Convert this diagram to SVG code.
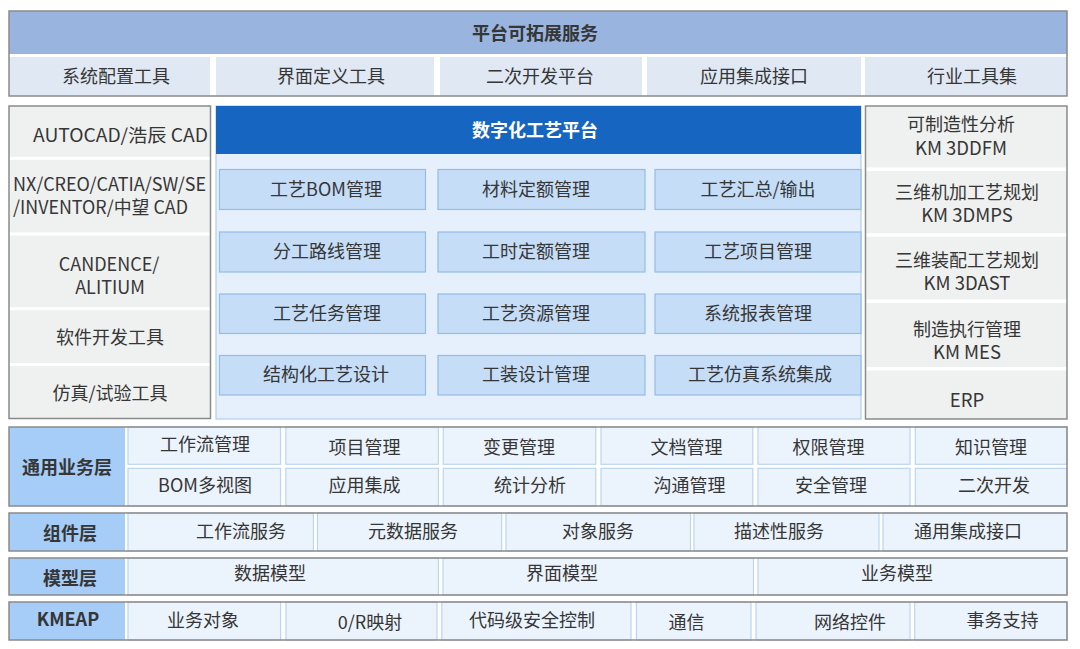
<svg xmlns="http://www.w3.org/2000/svg" width="1080" height="649" viewBox="0 0 1080 649">
<style>
text{font-family:"Noto Sans CJK SC","Noto Sans",sans-serif;font-size:18px;fill:#363636;text-anchor:middle;dominant-baseline:central}
.b{font-weight:700}
.w{fill:#ffffff}
.outer{fill:none;stroke:#8a8a8a;stroke-width:1.5}
.hdr{fill:#99b4de}
.row{fill:#e0e8f4}
.side{fill:#eff0f0}
.sep{fill:#ffffff}
.cb{fill:#e6f0fd;stroke:#b2cdee;stroke-width:1.2}
.ch{fill:#1565c1}
.cc{fill:#c5ddf6;stroke:#94bce9;stroke-width:1.2}
.lab{fill:#a6cdf8}
.lc{fill:#ebf3fd;stroke:#bcd5f0;stroke-width:1.2}
</style>
<rect width="1080" height="649" fill="#ffffff"/>

<g id="ext">
<rect class="hdr" x="9" y="11" width="1058" height="43"/>
<rect class="row" x="9" y="57" width="201" height="39"/>
<rect class="row" x="216" y="57" width="218" height="39"/>
<rect class="row" x="440" y="57" width="202" height="39"/>
<rect class="row" x="647" y="57" width="214" height="39"/>
<rect class="row" x="865" y="57" width="202" height="39"/>
<rect class="outer" x="9" y="11" width="1058" height="85"/>
<text class="b" x="535" y="31.5">平台可拓展服务</text>
<text x="116" y="74.5">系统配置工具</text>
<text x="331" y="74.5">界面定义工具</text>
<text x="540" y="74.5">二次开发平台</text>
<text x="754" y="74.5">应用集成接口</text>
<text x="972" y="74.5">行业工具集</text>
</g>

<g id="left">
<rect class="side" x="9" y="106" width="201.5" height="312.5"/>
<rect class="sep" x="9" y="156.8" width="201.5" height="3"/>
<rect class="sep" x="9" y="232.5" width="201.5" height="3"/>
<rect class="sep" x="9" y="307.2" width="201.5" height="3"/>
<rect class="sep" x="9" y="363" width="201.5" height="3"/>
<rect class="outer" x="9" y="106" width="201.5" height="312.5"/>
<text x="33" y="133.5" style="text-anchor:start" textLength="175" lengthAdjust="spacingAndGlyphs">AUTOCAD/浩辰 CAD</text>
<text x="13" y="183" style="text-anchor:start" textLength="193" lengthAdjust="spacingAndGlyphs">NX/CREO/CATIA/SW/SE</text>
<text x="13" y="206" style="text-anchor:start" textLength="175" lengthAdjust="spacingAndGlyphs">/INVENTOR/中望 CAD</text>
<text x="109" y="263">CANDENCE/</text>
<text x="110" y="286">ALITIUM</text>
<text x="110" y="335.5">软件开发工具</text>
<text x="110" y="391.5">仿真/试验工具</text>
</g>

<g id="center">
<rect class="cb" x="216" y="106" width="645" height="313"/>
<rect class="ch" x="216" y="106" width="645" height="48"/>
<text class="b w" x="535" y="128.5">数字化工艺平台</text>
<rect class="cc" x="219.5" y="169.5" width="206" height="40"/>
<rect class="cc" x="438" y="169.5" width="207" height="40"/>
<rect class="cc" x="655" y="169.5" width="206" height="40"/>
<rect class="cc" x="219.5" y="232" width="206" height="40"/>
<rect class="cc" x="438" y="232" width="207" height="40"/>
<rect class="cc" x="655" y="232" width="206" height="40"/>
<rect class="cc" x="219.5" y="294" width="206" height="39.5"/>
<rect class="cc" x="438" y="294" width="207" height="39.5"/>
<rect class="cc" x="655" y="294" width="206" height="39.5"/>
<rect class="cc" x="219.5" y="355.5" width="206" height="39.5"/>
<rect class="cc" x="438" y="355.5" width="207" height="39.5"/>
<rect class="cc" x="655" y="355.5" width="206" height="39.5"/>
<text x="326" y="187.5">工艺BOM管理</text>
<text x="536" y="187.5">材料定额管理</text>
<text x="758" y="187.5">工艺汇总/输出</text>
<text x="327" y="249.5">分工路线管理</text>
<text x="536" y="249.5">工时定额管理</text>
<text x="758" y="249.5">工艺项目管理</text>
<text x="327" y="311.5">工艺任务管理</text>
<text x="536" y="311.5">工艺资源管理</text>
<text x="758" y="311.5">系统报表管理</text>
<text x="326" y="372.5">结构化工艺设计</text>
<text x="536" y="372.5">工装设计管理</text>
<text x="760" y="372.5">工艺仿真系统集成</text>
</g>

<g id="right">
<rect class="side" x="865.5" y="106" width="201.5" height="313"/>
<rect class="sep" x="865.5" y="167.5" width="201.5" height="3.5"/>
<rect class="sep" x="865.5" y="233.3" width="201.5" height="3.5"/>
<rect class="sep" x="865.5" y="299.5" width="201.5" height="3.5"/>
<rect class="sep" x="865.5" y="367" width="201.5" height="3.5"/>
<rect class="outer" x="865.5" y="106" width="201.5" height="313"/>
<text x="961" y="122.5">可制造性分析</text>
<text x="961" y="147" style="font-size:18.5px">KM 3DDFM</text>
<text x="967" y="190.5">三维机加工艺规划</text>
<text x="967" y="214" style="font-size:18.5px">KM 3DMPS</text>
<text x="967" y="258.5">三维装配工艺规划</text>
<text x="967" y="282" style="font-size:18.5px">KM 3DAST</text>
<text x="967" y="327.5">制造执行管理</text>
<text x="967" y="351" style="font-size:18.5px">KM MES</text>
<text x="967" y="398.5" style="font-size:18.5px">ERP</text>
</g>

<g id="biz">
<rect class="lab" x="9" y="427" width="116" height="79"/>
<rect class="lc" x="128" y="427" width="152.5" height="37.3"/>
<rect class="lc" x="285.8" y="427" width="152.6" height="37.3"/>
<rect class="lc" x="443.2" y="427" width="152.6" height="37.3"/>
<rect class="lc" x="601" y="427" width="151.8" height="37.3"/>
<rect class="lc" x="758" y="427" width="152" height="37.3"/>
<rect class="lc" x="915.3" y="427" width="151.7" height="37.3"/>
<rect class="lc" x="128" y="468.3" width="152.5" height="37.7"/>
<rect class="lc" x="285.8" y="468.3" width="152.6" height="37.7"/>
<rect class="lc" x="443.2" y="468.3" width="152.6" height="37.7"/>
<rect class="lc" x="601" y="468.3" width="151.8" height="37.7"/>
<rect class="lc" x="758" y="468.3" width="152" height="37.7"/>
<rect class="lc" x="915.3" y="468.3" width="151.7" height="37.7"/>
<rect class="outer" x="9" y="427" width="1058" height="79"/>
<text class="b" x="67" y="465.5">通用业务层</text>
<text x="205" y="442.5">工作流管理</text>
<text x="364.5" y="445.5">项目管理</text>
<text x="519" y="445.5">变更管理</text>
<text x="686.5" y="445.5">文档管理</text>
<text x="828.5" y="445.5">权限管理</text>
<text x="991" y="445.5">知识管理</text>
<text x="205" y="483.5">BOM多视图</text>
<text x="364.5" y="483.5">应用集成</text>
<text x="530" y="483.5">统计分析</text>
<text x="689.5" y="483.5">沟通管理</text>
<text x="831" y="483.5">安全管理</text>
<text x="994" y="483.5">二次开发</text>
</g>

<g id="comp">
<rect class="lab" x="9" y="513" width="116" height="38"/>
<rect class="lc" x="128" y="513" width="185.4" height="38"/>
<rect class="lc" x="317.5" y="513" width="184.2" height="38"/>
<rect class="lc" x="506" y="513" width="184.5" height="38"/>
<rect class="lc" x="694" y="513" width="185" height="38"/>
<rect class="lc" x="883" y="513" width="184" height="38"/>
<rect class="outer" x="9" y="513" width="1058" height="38"/>
<text class="b" x="70" y="531.5">组件层</text>
<text x="241" y="530">工作流服务</text>
<text x="413" y="530">元数据服务</text>
<text x="598" y="530">对象服务</text>
<text x="779" y="530">描述性服务</text>
<text x="968" y="530">通用集成接口</text>
</g>

<g id="model">
<rect class="lab" x="9" y="558" width="116" height="37"/>
<rect class="lc" x="128" y="558" width="310.4" height="37"/>
<rect class="lc" x="443" y="558" width="310.5" height="37"/>
<rect class="lc" x="758" y="558" width="309" height="37"/>
<rect class="outer" x="9" y="558" width="1058" height="37"/>
<text class="b" x="70" y="576.5">模型层</text>
<text x="270" y="572">数据模型</text>
<text x="562" y="572">界面模型</text>
<text x="897" y="572">业务模型</text>
</g>

<g id="kmeap">
<rect class="lab" x="9" y="602" width="116" height="38"/>
<rect class="lc" x="128" y="602" width="152.6" height="38"/>
<rect class="lc" x="286" y="602" width="151" height="38"/>
<rect class="lc" x="441.8" y="602" width="189.2" height="38"/>
<rect class="lc" x="636.4" y="602" width="114.6" height="38"/>
<rect class="lc" x="756" y="602" width="154" height="38"/>
<rect class="lc" x="914.7" y="602" width="152.3" height="38"/>
<rect class="outer" x="9" y="602" width="1058" height="38"/>
<text class="b" x="68" y="617.5">KMEAP</text>
<text x="203" y="618.5">业务对象</text>
<text x="370" y="621">0/R映射</text>
<text x="532" y="618.5">代码级安全控制</text>
<text x="686.5" y="621">通信</text>
<text x="850" y="620.5">网络控件</text>
<text x="1002.5" y="619">事务支持</text>
</g>
</svg>
